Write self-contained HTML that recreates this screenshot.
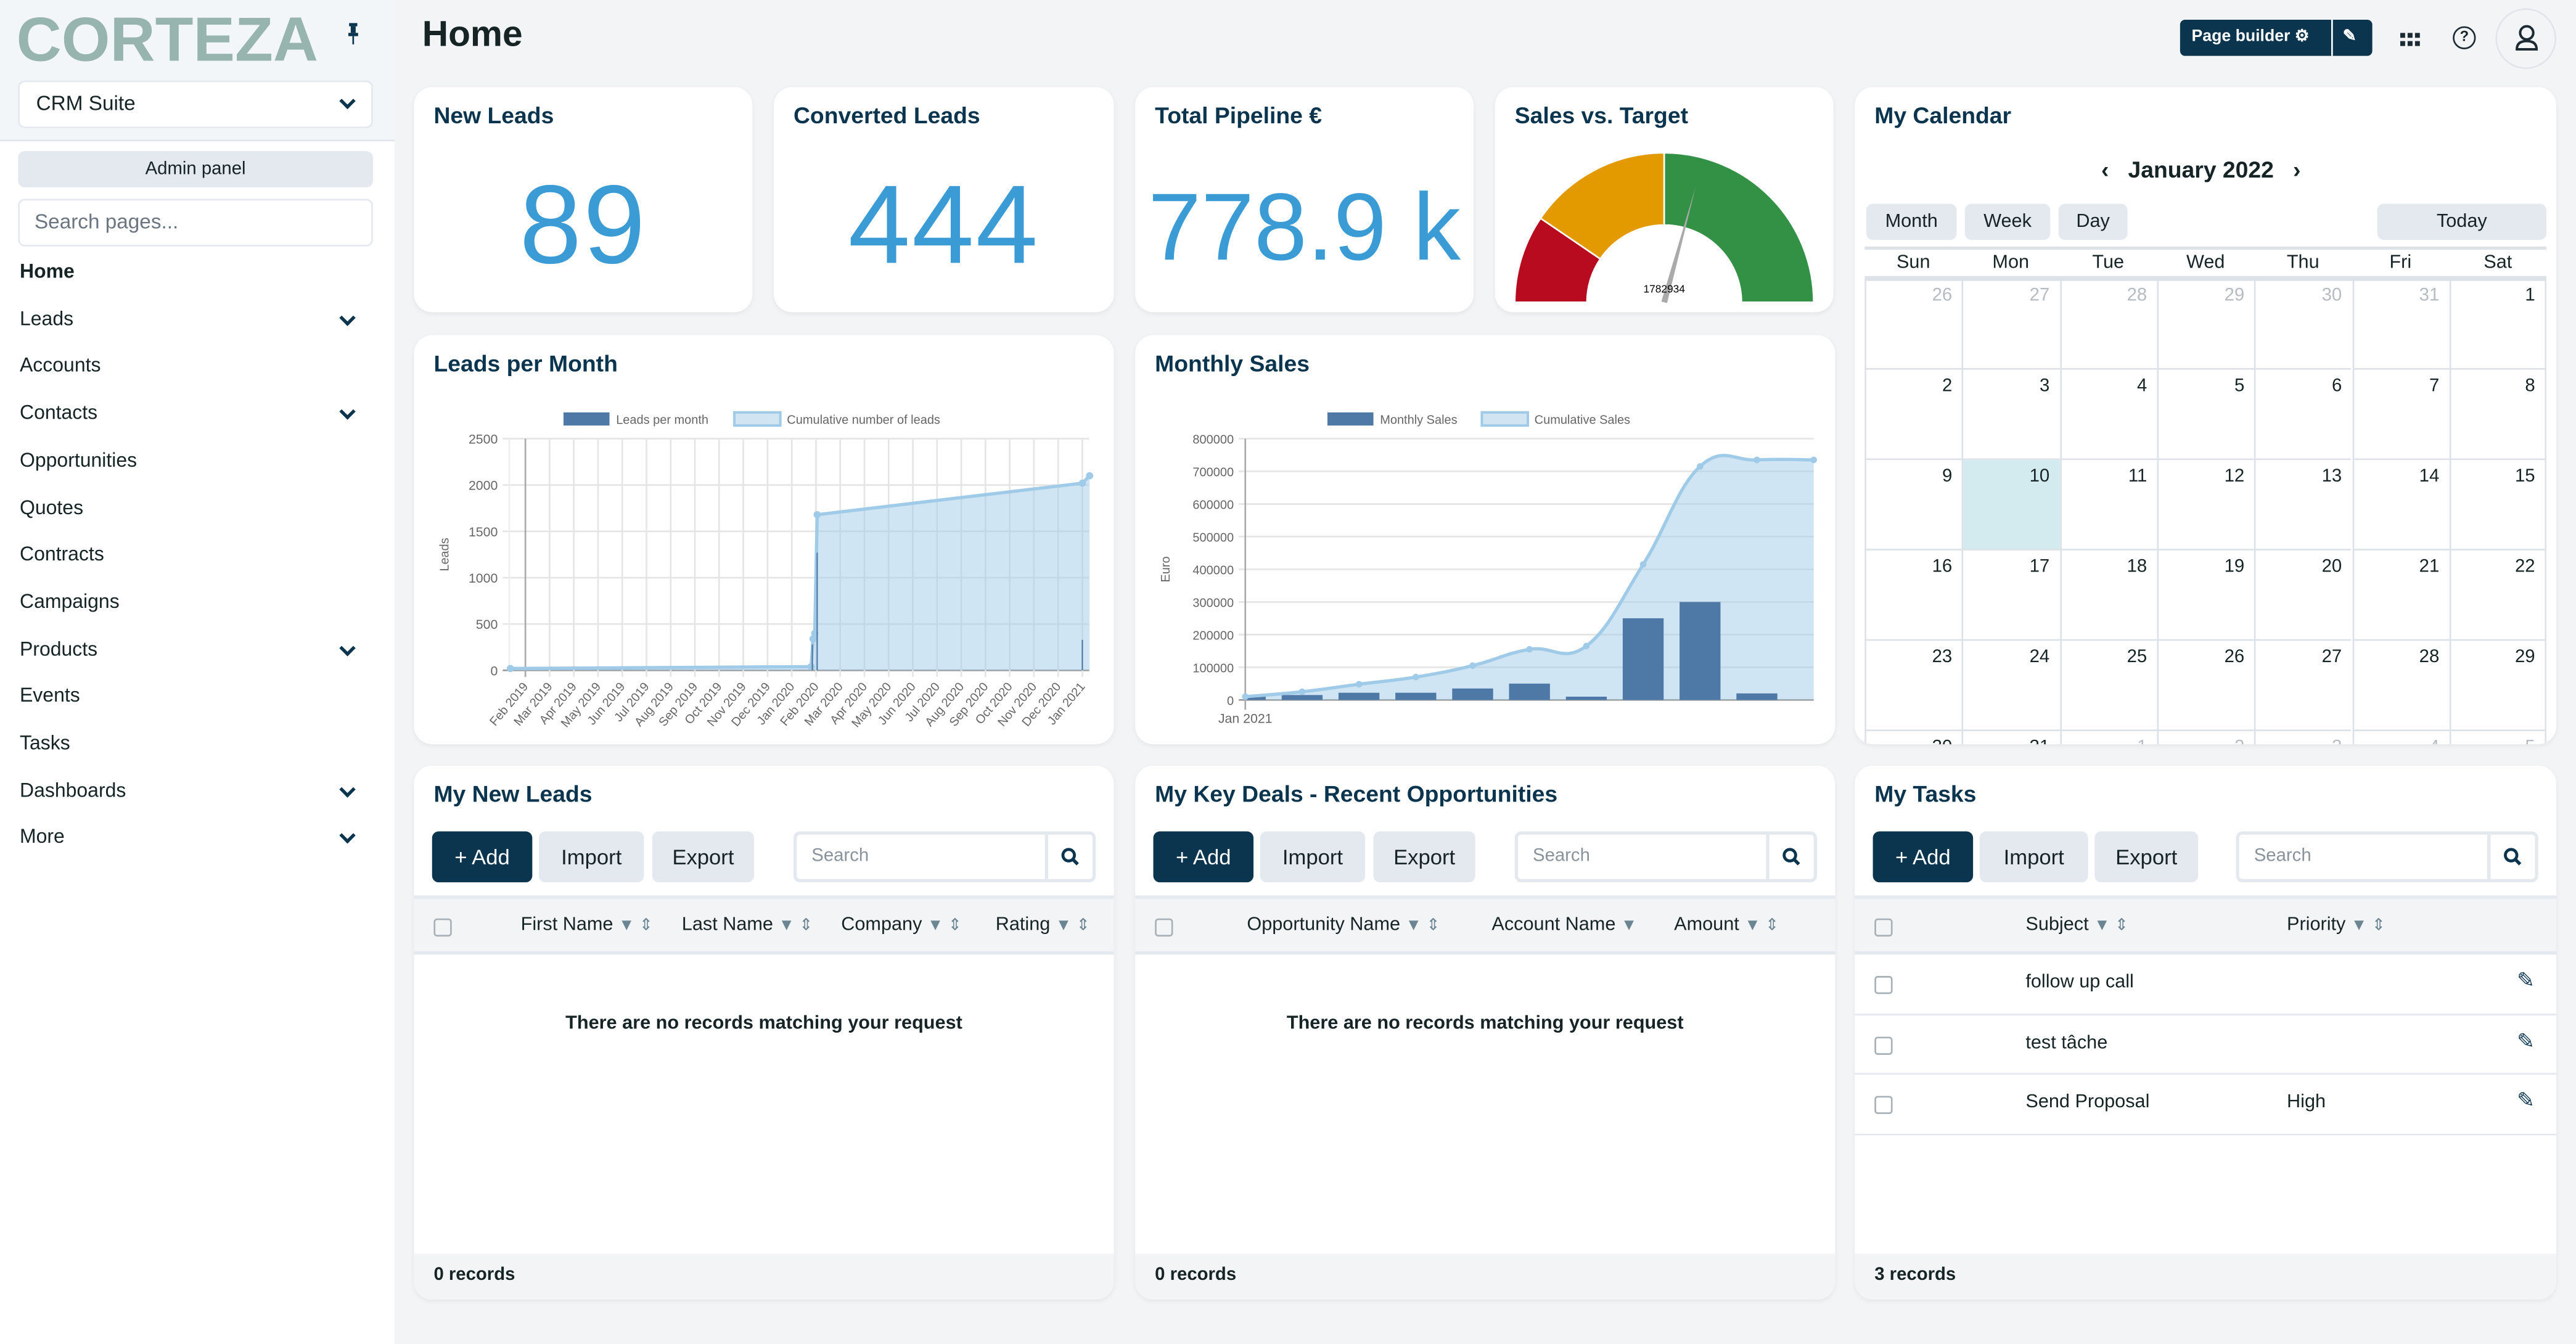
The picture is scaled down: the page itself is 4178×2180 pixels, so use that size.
<!DOCTYPE html>
<html><head><meta charset="utf-8">
<style>
*{box-sizing:border-box;margin:0;padding:0}
html,body{width:4178px;height:2180px;overflow:hidden;background:#f3f4f6}
#root{position:absolute;left:0;top:0;width:1568px;height:818px;transform:scale(2.66454,2.66504);transform-origin:0 0;font-family:"Liberation Sans",sans-serif;color:#162425;background:#f3f4f6}
.abs{position:absolute}
.card{position:absolute;background:#fff;border-radius:11px;box-shadow:0 1px 3px rgba(0,0,0,.06)}
.ttl{position:absolute;left:12px;top:9px;font-size:14px;font-weight:bold;color:#0b344f}
.big{position:absolute;left:0;right:0;top:45px;text-align:center;font-size:68px;color:#3a9bd5;letter-spacing:1px}
.side-item{position:absolute;left:12px;font-size:12px;color:#162425}
.chev{position:absolute;left:208px;width:7px;height:7px;border-right:2px solid #0b344f;border-bottom:2px solid #0b344f;transform:rotate(45deg)}
.btn{position:absolute;top:40px;height:31px;border-radius:4px;font-size:13px;line-height:31px;text-align:center;background:#e4e8ef;color:#162425}
.btn.dark{background:#0b344f;color:#fff}
.srch{position:absolute;top:40px;height:31px;border:2px solid #e4e8ef;border-radius:4px;font-size:11px;color:#8a939b;line-height:27px;padding-left:9px}
.thead{position:absolute;left:0;right:0;top:79px;height:36px;background:#f3f4f6;border-top:2px solid #e4e8ef;border-bottom:2px solid #e4e8ef}
.th{position:absolute;top:10px;font-size:11.5px;color:#162425}
.cb{position:absolute;width:11px;height:11px;border:1.5px solid #a8b1b8;border-radius:2px}
.foot{position:absolute;left:0;right:0;bottom:0;height:28px;background:#f3f4f6;border-radius:0 0 11px 11px;font-size:11px;font-weight:bold;padding:7px 12px}
.empty{position:absolute;left:0;right:0;top:151px;text-align:center;font-size:11.5px;font-weight:bold}
.fil{color:#6c8593;font-size:10px}
</style></head><body>
<div id="root">
<div class="abs" style="left:0;top:0;width:240px;height:818px;background:#fff"></div>
<div class="abs" style="left:0;top:0;width:240px;height:86px;background:#f3f6f9;border-bottom:1px solid #e1e5ea"></div>
<div class="abs" style="left:10px;top:4px;font-size:38px;font-weight:bold;color:#97b4ae">CORTEZA</div>
<div class="abs" style="left:212px;top:14px;width:6px;height:13px"><svg width="6" height="13"><rect x="0.5" y="0" width="5" height="2" fill="#0b344f"/><rect x="1.5" y="2" width="3" height="4" fill="#0b344f"/><rect x="0" y="6" width="6" height="2" fill="#0b344f"/><rect x="2.5" y="8" width="1" height="5" fill="#0b344f"/></svg></div>
<div class="abs" style="left:11px;top:49px;width:216px;height:29px;background:#fff;border:1.5px solid #e4e8ef;border-radius:4px;font-size:12.5px;padding:6px 10px">CRM Suite<span class="chev" style="left:196px;top:8px"></span></div>
<div class="abs" style="left:11px;top:92px;width:216px;height:22px;background:#e4e8ef;border-radius:4px;font-size:11px;text-align:center;line-height:22px">Admin panel</div>
<div class="abs" style="left:11px;top:121px;width:216px;height:29px;background:#fff;border:1.5px solid #e4e8ef;border-radius:4px;font-size:12.5px;color:#6b7680;padding:6px 9px">Search pages...</div>
<div id="sidenav"></div>
<div class="abs" style="left:257px;top:8px;font-size:22px;font-weight:bold;color:#162425">Home</div>
<div class="abs" style="left:1327px;top:12px;width:117px;height:22px;background:#0b344f;border-radius:3px;color:#fff;font-size:10px;font-weight:bold;line-height:22px;padding-left:7px">Page builder ⚙<span style="position:absolute;left:92px;top:0;width:1px;height:22px;background:#fff"></span><span style="position:absolute;left:99px;top:0">✎</span></div>
<div class="abs" style="left:1461px;top:17px;width:12px;height:10px"><svg width="12" height="10"><g fill="#1c2b33"><rect x="0" y="0" width="3" height="3"/><rect x="4.5" y="0" width="3" height="3"/><rect x="9" y="0" width="3" height="3"/><rect x="0" y="5" width="3" height="3"/><rect x="4.5" y="5" width="3" height="3"/><rect x="9" y="5" width="3" height="3"/></g></svg></div>
<div class="abs" style="left:1493px;top:16px;width:14px;height:14px;border:1.5px solid #1c2b33;border-radius:50%;font-size:9px;font-weight:bold;text-align:center;line-height:11px">?</div>
<div class="abs" style="left:1519px;top:5px;width:37px;height:37px;border:1px solid #e1e5ea;border-radius:50%"><svg width="37" height="37"><circle cx="18" cy="14" r="4" fill="none" stroke="#1c2b33" stroke-width="1.5"/><path d="M12 24 q0 -5 6 -5 q6 0 6 5 z" fill="none" stroke="#1c2b33" stroke-width="1.5"/></svg></div>

<div class="card" style="left:252px;top:53px;width:206px;height:137px"><div class="ttl">New Leads</div><div class="big">89</div></div>
<div class="card" style="left:471px;top:53px;width:207px;height:137px"><div class="ttl">Converted Leads</div><div class="big">444</div></div>
<div class="card" style="left:691px;top:53px;width:206px;height:137px"><div class="ttl">Total Pipeline €</div><div class="big" style="font-size:58px;top:52px;letter-spacing:0">778.9 k</div></div>
<div class="card" style="left:910px;top:53px;width:206px;height:137px"><div class="ttl">Sales vs. Target</div>
<svg class="abs" style="left:0;top:0" width="206" height="137" id="gauge"></svg></div>

<div class="card" style="left:1129px;top:53px;width:427px;height:400px;overflow:hidden"><div class="ttl">My Calendar</div>
<div class="abs" style="left:150px;top:42px;font-size:14px;font-weight:bold"><span>‹</span>&nbsp;&nbsp; January 2022 &nbsp;&nbsp;<span>›</span></div>
<div class="btn" style="left:7px;top:71px;width:55px;height:22px;line-height:22px;font-size:11.5px">Month</div>
<div class="btn" style="left:67px;top:71px;width:52px;height:22px;line-height:22px;font-size:11.5px">Week</div>
<div class="btn" style="left:124px;top:71px;width:42px;height:22px;line-height:22px;font-size:11.5px">Day</div>
<div class="btn" style="left:318px;top:71px;width:103px;height:22px;line-height:22px;font-size:11.5px">Today</div>
<div id="cal"></div>
</div>

<div class="card" style="left:252px;top:204px;width:426px;height:249px"><div class="ttl">Leads per Month</div></div>
<div class="card" style="left:691px;top:204px;width:426px;height:249px"><div class="ttl">Monthly Sales</div></div>
<svg class="abs" style="left:0;top:0" width="1568" height="818" id="charts"></svg>

<div class="card" style="left:252px;top:466px;width:426px;height:325px"><div class="ttl">My New Leads</div>
<div class="btn dark" style="left:11px;width:61px">+ Add</div>
<div class="btn" style="left:76px;width:64px">Import</div>
<div class="btn" style="left:145px;width:62px">Export</div>
<div class="srch" style="left:231px;width:184px">Search<span style="position:absolute;left:151px;top:0;width:2px;height:27px;background:#e4e8ef"></span><svg style="position:absolute;left:161px;top:8px" width="11" height="11"><circle cx="4.5" cy="4.5" r="3.5" fill="none" stroke="#0b344f" stroke-width="1.8"/><line x1="7" y1="7" x2="10" y2="10" stroke="#0b344f" stroke-width="2"/></svg></div>
<div class="thead"><span class="cb" style="left:12px;top:12px"></span>
<span class="th" style="left:65px">First Name <span class="fil">▼ ⇕</span></span>
<span class="th" style="left:163px">Last Name <span class="fil">▼ ⇕</span></span>
<span class="th" style="left:260px">Company <span class="fil">▼ ⇕</span></span>
<span class="th" style="left:354px">Rating <span class="fil">▼ ⇕</span></span></div>
<div class="empty">There are no records matching your request</div>
<div class="foot">0 records</div></div>

<div class="card" style="left:691px;top:466px;width:426px;height:325px"><div class="ttl">My Key Deals - Recent Opportunities</div>
<div class="btn dark" style="left:11px;width:61px">+ Add</div>
<div class="btn" style="left:76px;width:64px">Import</div>
<div class="btn" style="left:145px;width:62px">Export</div>
<div class="srch" style="left:231px;width:184px">Search<span style="position:absolute;left:151px;top:0;width:2px;height:27px;background:#e4e8ef"></span><svg style="position:absolute;left:161px;top:8px" width="11" height="11"><circle cx="4.5" cy="4.5" r="3.5" fill="none" stroke="#0b344f" stroke-width="1.8"/><line x1="7" y1="7" x2="10" y2="10" stroke="#0b344f" stroke-width="2"/></svg></div>
<div class="thead"><span class="cb" style="left:12px;top:12px"></span>
<span class="th" style="left:68px">Opportunity Name <span class="fil">▼ ⇕</span></span>
<span class="th" style="left:217px">Account Name <span class="fil">▼</span></span>
<span class="th" style="left:328px">Amount <span class="fil">▼ ⇕</span></span></div>
<div class="empty">There are no records matching your request</div>
<div class="foot">0 records</div></div>

<div class="card" style="left:1129px;top:466px;width:427px;height:325px"><div class="ttl">My Tasks</div>
<div class="btn dark" style="left:11px;width:61px">+ Add</div>
<div class="btn" style="left:76px;width:66px">Import</div>
<div class="btn" style="left:146px;width:63px">Export</div>
<div class="srch" style="left:232px;width:184px">Search<span style="position:absolute;left:151px;top:0;width:2px;height:27px;background:#e4e8ef"></span><svg style="position:absolute;left:161px;top:8px" width="11" height="11"><circle cx="4.5" cy="4.5" r="3.5" fill="none" stroke="#0b344f" stroke-width="1.8"/><line x1="7" y1="7" x2="10" y2="10" stroke="#0b344f" stroke-width="2"/></svg></div>
<div class="thead"><span class="cb" style="left:12px;top:12px"></span>
<span class="th" style="left:104px">Subject <span class="fil">▼ ⇕</span></span>
<span class="th" style="left:263px">Priority <span class="fil">▼ ⇕</span></span></div>
<div id="tasks"></div>
<div class="foot">3 records</div></div>
</div>

<script>
const navItems=["Home","Leads","Accounts","Contacts","Opportunities","Quotes","Contracts","Campaigns","Products","Events","Tasks","Dashboards","More"];
const navChev=[0,1,0,1,0,0,0,0,1,0,0,1,1];
const sn=document.getElementById('sidenav');
navItems.forEach((n,i)=>{
  const d=document.createElement('div');d.className='side-item';
  d.style.top=(158+i*28.7)+'px';if(i==0)d.style.fontWeight='bold';
  d.textContent=n;
  
  
  sn.appendChild(d);
  if(navChev[i]){const c=document.createElement('span');c.className='chev';c.style.top=(161+i*28.7)+'px';
  
  
  sn.appendChild(c);}
});
const days=["Sun","Mon","Tue","Wed","Thu","Fri","Sat"];
const calDates=[[26,27,28,29,30,31,1],[2,3,4,5,6,7,8],[9,10,11,12,13,14,15],[16,17,18,19,20,21,22],[23,24,25,26,27,28,29],[30,31,1,2,3,4,5]];
const cal=document.getElementById('cal');
const cx0=6,cw=59.3,ry0=117,rh=55;
cal.innerHTML='<div class="abs" style="left:6px;top:97px;width:415px;height:2px;background:#dde2e8"></div><div class="abs" style="left:6px;top:115px;width:415px;height:3px;background:#dde2e8"></div>';
days.forEach((d,i)=>{const e=document.createElement('div');e.className='abs';e.style.cssText=`left:${cx0+i*cw}px;top:101px;width:${cw}px;text-align:center;font-size:11.5px`;e.textContent=d;


cal.appendChild(e);});
calDates.forEach((row,r)=>row.forEach((v,c)=>{
  const e=document.createElement('div');e.className='abs';
  const other=(r==0&&c<6)||(r==5&&c>1);
  const sel=(r==2&&c==1);
  e.style.cssText=`left:${cx0+c*cw}px;top:${ry0+r*rh}px;width:${cw}px;height:${rh}px;border-left:1px solid #dde2e8;border-bottom:1px solid #dde2e8;${c==6?'border-right:1px solid #dde2e8;':''}text-align:right;padding:4px 6px;font-size:11px;color:${other?'#b6bcc2':'#162425'};background:${sel?'#d3ebef':'transparent'}`;
  e.textContent=v;
  
  
  cal.appendChild(e);
}));
const taskSubj=["follow up call","test tâche","Send Proposal"];
const taskPri=["","","High"];
const tk=document.getElementById('tasks');
taskSubj.forEach((s,i)=>{
  const r=document.createElement('div');r.className='abs';
  r.style.cssText=`left:0;right:0;top:${115+i*36.6}px;height:36.6px;border-bottom:1px solid #e4e8ef;font-size:11.5px`;
  r.innerHTML=`<span class="cb" style="left:12px;top:13px"></span><span class="abs" style="left:104px;top:11px">${s}</span><span class="abs" style="left:263px;top:11px">${taskPri[i]}</span><span class="abs" style="left:403px;top:8px;color:#0b344f;font-size:13px">✎</span>`;
  
  
  tk.appendChild(r);
});

const gaugeSegs=[0.19,0.5,1.0];
const gaugeColors=["#b80b1f","#e29a00","#339145"];
const gaugeValue=1782934, gaugeMax=3050000;
const g=document.getElementById('gauge');const NS='http://www.w3.org/2000/svg';
const gx=103,gy=131,R=91,r0=47;
function pt(f,rad){const a=Math.PI*(1-f);return [gx+rad*Math.cos(a),gy-rad*Math.sin(a)];}
let prev=0;
gaugeSegs.forEach((f,i)=>{
  const [x1,y1]=pt(prev,R),[x2,y2]=pt(f,R),[x3,y3]=pt(f,r0),[x4,y4]=pt(prev,r0);
  const p=document.createElementNS(NS,'path');
  p.setAttribute('d',`M${x1},${y1} A${R},${R} 0 0 1 ${x2},${y2} L${x3},${y3} A${r0},${r0} 0 0 0 ${x4},${y4} Z`);
  p.setAttribute('fill',gaugeColors[i]);p.setAttribute('stroke','#fff');p.setAttribute('stroke-width','1');
  
  
  g.appendChild(p);prev=f;
});
{const f=gaugeValue/gaugeMax;const [tx,ty]=pt(f,R*0.8);const a=Math.PI*(1-f);
 const nx=Math.sin(a)*1.8,ny=Math.cos(a)*1.8;
 const n=document.createElementNS(NS,'path');
 n.setAttribute('d',`M${gx-nx},${gy-ny} L${tx},${ty} L${gx+nx},${gy+ny} Z`);n.setAttribute('fill','#aaa');
 
 
 g.appendChild(n);
 const t=document.createElementNS(NS,'text');t.setAttribute('x',gx);t.setAttribute('y',125);t.setAttribute('font-size','6.5');t.setAttribute('text-anchor','middle');t.setAttribute('font-family','Liberation Sans, sans-serif');t.textContent=gaugeValue;
 
 
 g.appendChild(t);}

const leadMonths=["Feb 2019","Mar 2019","Apr 2019","May 2019","Jun 2019","Jul 2019","Aug 2019","Sep 2019","Oct 2019","Nov 2019","Dec 2019","Jan 2020","Feb 2020","Mar 2020","Apr 2020","May 2020","Jun 2020","Jul 2020","Aug 2020","Sep 2020","Oct 2020","Nov 2020","Dec 2020","Jan 2021"];
const leadTicks=[0,500,1000,1500,2000,2500];
const leadCumT=[-0.62,11.8,11.88,11.95,12.05,23.0,23.3];
const leadCumV=[20,40,340,400,1680,2020,2100];
const leadBarT=[11.85,12.05,23.0];
const leadBarV=[280,1270,330];
const salesLabels=["Jan 2021"];
const salesTicks=[0,100000,200000,300000,400000,500000,600000,700000,800000];
const salesMonthly=[10000,15000,22000,22000,35000,50000,10000,250000,300000,20000,0];
const salesCum=[10000,25000,48000,70000,105000,155000,165000,415000,715000,735000,735000];

const C=document.getElementById('charts');
function el(tag,attrs,parent){const e=document.createElementNS(NS,tag);for(const k in attrs)e.setAttribute(k,attrs[k]);(parent||C).appendChild(e);return e;}
function txt(x,y,s,size,anchor,extra){const t=el('text',Object.assign({x:x,y:y,'font-size':size,'text-anchor':anchor,fill:'#666','font-family':'Liberation Sans, sans-serif'},extra||{}));t.textContent=s;return t;}
function legend(x,label1,x2,label2,y){
  const a=el('rect',{x:x,y:y-4,width:28,height:8,fill:'#4e79a7'});
  
  
  txt(x+32,y+3,label1,7.5,'start');
  const b=el('rect',{x:x2,y:y-4,width:28,height:8,fill:'#d0e4f2',stroke:'#a0cbe8','stroke-width':1.5});
  
  
  txt(x2+32,y+3,label2,7.5,'start');
}
{
 const X0=319.8,PX=14.74,Y0=408,YT=267,L=310,Rr=663;
 const xs=t=>X0+t*PX, ys=v=>Y0-(v/2500)*(Y0-YT);
 legend(343,"Leads per month",447,"Cumulative number of leads",255);
 leadTicks.forEach(v=>{el('line',{x1:L-4,x2:Rr,y1:ys(v),y2:ys(v),stroke:v==0?'#999':'#e5e5e5','stroke-width':1});txt(L-7,ys(v)+3,v,8,'end');});
 el('line',{x1:L,x2:L,y1:YT,y2:Y0,stroke:'#eee'});
 leadMonths.forEach((m,i)=>{el('line',{x1:xs(i),x2:xs(i),y1:YT,y2:Y0+4,stroke:i==0?'#aaa':'#e5e5e5'});
   txt(xs(i)+2,Y0+10,m,7.5,'end',{transform:`rotate(-50 ${xs(i)+2} ${Y0+10})`});});
 txt(0,0,"Leads",7.5,'middle',{transform:`translate(273 ${(Y0+YT)/2}) rotate(-90)`});
 let d=`M${xs(leadCumT[0])},${Y0}`;leadCumT.forEach((t,i)=>d+=` L${xs(t)},${ys(leadCumV[i])}`);d+=` L${xs(leadCumT[leadCumT.length-1])},${Y0} Z`;
 const ar=el('path',{d:d,fill:'rgba(160,203,232,0.5)'});
 
 
 const ln=el('polyline',{points:leadCumT.map((t,i)=>xs(t)+','+ys(leadCumV[i])).join(' '),fill:'none',stroke:'#a0cbe8','stroke-width':2});
 
 
 leadCumT.forEach((t,i)=>{const c=el('circle',{cx:xs(t),cy:ys(leadCumV[i]),r:2.2,fill:'#a0cbe8'});
  
  });
 leadBarT.forEach((t,i)=>{const b=el('rect',{x:xs(t)-0.4,y:ys(leadBarV[i]),width:0.8,height:Y0-ys(leadBarV[i]),fill:'#4e79a7'});
  
  });
}
{
 const L=758,Rr=1104,Y0=426,YT=267,n=salesCum.length,step=(Rr-L)/(n-1);
 const xs=i=>L+i*step, ys=v=>Y0-(v/800000)*(Y0-YT);
 legend(808,"Monthly Sales",902,"Cumulative Sales",255);
 salesTicks.forEach(v=>{el('line',{x1:L-4,x2:Rr,y1:ys(v),y2:ys(v),stroke:v==0?'#999':'#e5e5e5'});txt(L-7,ys(v)+3,v,7.5,'end');});
 el('line',{x1:L,x2:L,y1:YT,y2:Y0+6,stroke:'#aaa'});
 txt(L,Y0+14,salesLabels[0],8,'middle');
 txt(0,0,"Euro",7.5,'middle',{transform:`translate(712 ${(Y0+YT)/2}) rotate(-90)`});
 const P=salesCum.map((v,i)=>[xs(i),ys(v)]);
 let d=`M${P[0][0]},${P[0][1]}`;
 for(let i=0;i<P.length-1;i++){const p0=P[Math.max(0,i-1)],p1=P[i],p2=P[i+1],p3=P[Math.min(P.length-1,i+2)];const k=0.2;
  d+=` C${p1[0]+(p2[0]-p0[0])*k},${p1[1]+(p2[1]-p0[1])*k} ${p2[0]-(p3[0]-p1[0])*k},${p2[1]-(p3[1]-p1[1])*k} ${p2[0]},${p2[1]}`;}
 const ar=el('path',{d:d+` L${P[P.length-1][0]},${Y0} L${P[0][0]},${Y0} Z`,fill:'rgba(160,203,232,0.5)'});
 
 
 salesMonthly.forEach((v,i)=>{if(!v)return;let x=xs(i)-step*0.36,w=step*0.72;if(x<L){w-=L-x;x=L;}
  const b=el('rect',{x:x,y:ys(v),width:w,height:Y0-ys(v),fill:'#4e79a7'});
  
  });
 const ln=el('path',{d:d,fill:'none',stroke:'#a0cbe8','stroke-width':2});
 
 
 P.forEach(p=>{const c=el('circle',{cx:p[0],cy:p[1],r:2,fill:'#a0cbe8'});
  
  });
}
</script>
</body></html>
